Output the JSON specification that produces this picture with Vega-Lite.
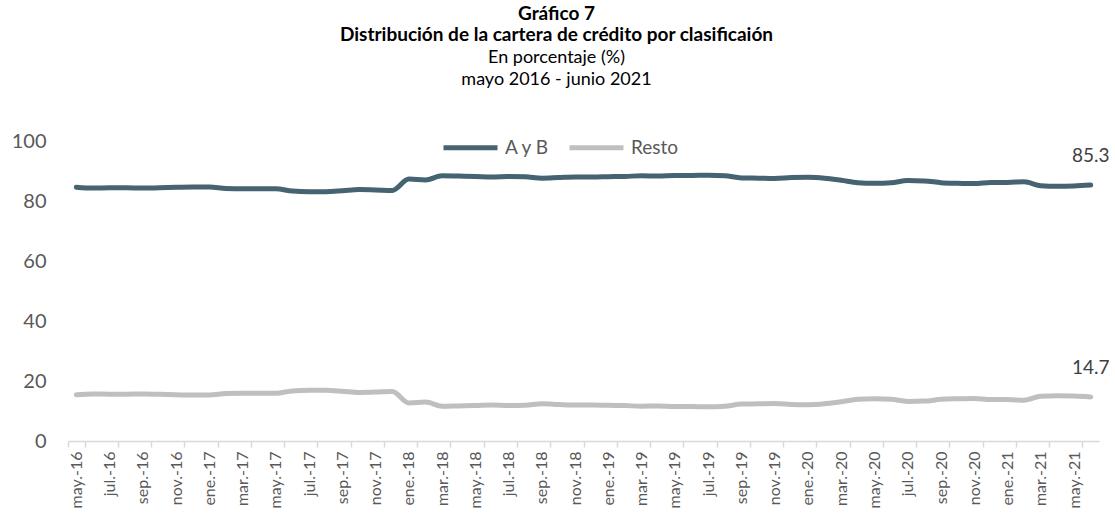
{
  "$schema": "https://vega.github.io/schema/vega-lite/v6.json",
  "width": 1031,
  "height": 300,
  "autosize": {"type": "none"},
  "padding": {"left": 68, "top": 141, "right": 16, "bottom": 77},
  "background": "white",
  "config": {"view": {"stroke": null}, "font": "Lato"},
  "title": {
    "text": ["Gráfico 7", "Distribución de la cartera de crédito por clasificaión"],
    "subtitle": ["En porcentaje (%)", "mayo 2016 - junio 2021"],
    "anchor": "middle",
    "frame": "group",
    "dx": -27,
    "offset": 29,
    "font": "Lato",
    "fontSize": 19,
    "fontWeight": "bold",
    "color": "#000000",
    "lineHeight": 21,
    "subtitleFont": "Lato",
    "subtitleFontSize": 18,
    "subtitleFontWeight": "normal",
    "subtitleColor": "#000000",
    "subtitleLineHeight": 22,
    "subtitlePadding": 4
  },
  "data": {"values": [
    {"mes": "may.-16", "serie": "A y B", "valor": 84.6}, {"mes": "jun.-16", "serie": "A y B", "valor": 84.3},
    {"mes": "jul.-16", "serie": "A y B", "valor": 84.4}, {"mes": "ago.-16", "serie": "A y B", "valor": 84.4},
    {"mes": "sep.-16", "serie": "A y B", "valor": 84.3}, {"mes": "oct.-16", "serie": "A y B", "valor": 84.4},
    {"mes": "nov.-16", "serie": "A y B", "valor": 84.6}, {"mes": "dic.-16", "serie": "A y B", "valor": 84.7},
    {"mes": "ene.-17", "serie": "A y B", "valor": 84.7}, {"mes": "feb.-17", "serie": "A y B", "valor": 84.2},
    {"mes": "mar.-17", "serie": "A y B", "valor": 84.1}, {"mes": "abr.-17", "serie": "A y B", "valor": 84.1},
    {"mes": "may.-17", "serie": "A y B", "valor": 84.1}, {"mes": "jun.-17", "serie": "A y B", "valor": 83.3},
    {"mes": "jul.-17", "serie": "A y B", "valor": 83.1}, {"mes": "ago.-17", "serie": "A y B", "valor": 83.1},
    {"mes": "sep.-17", "serie": "A y B", "valor": 83.4}, {"mes": "oct.-17", "serie": "A y B", "valor": 83.8},
    {"mes": "nov.-17", "serie": "A y B", "valor": 83.7}, {"mes": "dic.-17", "serie": "A y B", "valor": 83.5},
    {"mes": "ene.-18", "serie": "A y B", "valor": 87.3}, {"mes": "feb.-18", "serie": "A y B", "valor": 87.0},
    {"mes": "mar.-18", "serie": "A y B", "valor": 88.4}, {"mes": "abr.-18", "serie": "A y B", "valor": 88.3},
    {"mes": "may.-18", "serie": "A y B", "valor": 88.2}, {"mes": "jun.-18", "serie": "A y B", "valor": 88.0},
    {"mes": "jul.-18", "serie": "A y B", "valor": 88.2}, {"mes": "ago.-18", "serie": "A y B", "valor": 88.1},
    {"mes": "sep.-18", "serie": "A y B", "valor": 87.6}, {"mes": "oct.-18", "serie": "A y B", "valor": 87.8},
    {"mes": "nov.-18", "serie": "A y B", "valor": 88.0}, {"mes": "dic.-18", "serie": "A y B", "valor": 88.0},
    {"mes": "ene.-19", "serie": "A y B", "valor": 88.1}, {"mes": "feb.-19", "serie": "A y B", "valor": 88.2},
    {"mes": "mar.-19", "serie": "A y B", "valor": 88.4}, {"mes": "abr.-19", "serie": "A y B", "valor": 88.3},
    {"mes": "may.-19", "serie": "A y B", "valor": 88.5}, {"mes": "jun.-19", "serie": "A y B", "valor": 88.5},
    {"mes": "jul.-19", "serie": "A y B", "valor": 88.6}, {"mes": "ago.-19", "serie": "A y B", "valor": 88.4},
    {"mes": "sep.-19", "serie": "A y B", "valor": 87.7}, {"mes": "oct.-19", "serie": "A y B", "valor": 87.6},
    {"mes": "nov.-19", "serie": "A y B", "valor": 87.5}, {"mes": "dic.-19", "serie": "A y B", "valor": 87.8},
    {"mes": "ene.-20", "serie": "A y B", "valor": 87.9}, {"mes": "feb.-20", "serie": "A y B", "valor": 87.6},
    {"mes": "mar.-20", "serie": "A y B", "valor": 86.9}, {"mes": "abr.-20", "serie": "A y B", "valor": 86.1},
    {"mes": "may.-20", "serie": "A y B", "valor": 85.9}, {"mes": "jun.-20", "serie": "A y B", "valor": 86.1},
    {"mes": "jul.-20", "serie": "A y B", "valor": 86.8}, {"mes": "ago.-20", "serie": "A y B", "valor": 86.7},
    {"mes": "sep.-20", "serie": "A y B", "valor": 86.1}, {"mes": "oct.-20", "serie": "A y B", "valor": 85.9},
    {"mes": "nov.-20", "serie": "A y B", "valor": 85.8}, {"mes": "dic.-20", "serie": "A y B", "valor": 86.2},
    {"mes": "ene.-21", "serie": "A y B", "valor": 86.2}, {"mes": "feb.-21", "serie": "A y B", "valor": 86.4},
    {"mes": "mar.-21", "serie": "A y B", "valor": 85.1}, {"mes": "abr.-21", "serie": "A y B", "valor": 84.9},
    {"mes": "may.-21", "serie": "A y B", "valor": 85.0}, {"mes": "jun.-21", "serie": "A y B", "valor": 85.3},
    {"mes": "may.-16", "serie": "Resto", "valor": 15.4}, {"mes": "jun.-16", "serie": "Resto", "valor": 15.7},
    {"mes": "jul.-16", "serie": "Resto", "valor": 15.6}, {"mes": "ago.-16", "serie": "Resto", "valor": 15.6},
    {"mes": "sep.-16", "serie": "Resto", "valor": 15.7}, {"mes": "oct.-16", "serie": "Resto", "valor": 15.6},
    {"mes": "nov.-16", "serie": "Resto", "valor": 15.4}, {"mes": "dic.-16", "serie": "Resto", "valor": 15.3},
    {"mes": "ene.-17", "serie": "Resto", "valor": 15.3}, {"mes": "feb.-17", "serie": "Resto", "valor": 15.8},
    {"mes": "mar.-17", "serie": "Resto", "valor": 15.9}, {"mes": "abr.-17", "serie": "Resto", "valor": 15.9},
    {"mes": "may.-17", "serie": "Resto", "valor": 15.9}, {"mes": "jun.-17", "serie": "Resto", "valor": 16.7},
    {"mes": "jul.-17", "serie": "Resto", "valor": 16.9}, {"mes": "ago.-17", "serie": "Resto", "valor": 16.9},
    {"mes": "sep.-17", "serie": "Resto", "valor": 16.6}, {"mes": "oct.-17", "serie": "Resto", "valor": 16.2},
    {"mes": "nov.-17", "serie": "Resto", "valor": 16.3}, {"mes": "dic.-17", "serie": "Resto", "valor": 16.5},
    {"mes": "ene.-18", "serie": "Resto", "valor": 12.7}, {"mes": "feb.-18", "serie": "Resto", "valor": 13.0},
    {"mes": "mar.-18", "serie": "Resto", "valor": 11.6}, {"mes": "abr.-18", "serie": "Resto", "valor": 11.7},
    {"mes": "may.-18", "serie": "Resto", "valor": 11.8}, {"mes": "jun.-18", "serie": "Resto", "valor": 12.0},
    {"mes": "jul.-18", "serie": "Resto", "valor": 11.8}, {"mes": "ago.-18", "serie": "Resto", "valor": 11.9},
    {"mes": "sep.-18", "serie": "Resto", "valor": 12.4}, {"mes": "oct.-18", "serie": "Resto", "valor": 12.2},
    {"mes": "nov.-18", "serie": "Resto", "valor": 12.0}, {"mes": "dic.-18", "serie": "Resto", "valor": 12.0},
    {"mes": "ene.-19", "serie": "Resto", "valor": 11.9}, {"mes": "feb.-19", "serie": "Resto", "valor": 11.8},
    {"mes": "mar.-19", "serie": "Resto", "valor": 11.6}, {"mes": "abr.-19", "serie": "Resto", "valor": 11.7},
    {"mes": "may.-19", "serie": "Resto", "valor": 11.5}, {"mes": "jun.-19", "serie": "Resto", "valor": 11.5},
    {"mes": "jul.-19", "serie": "Resto", "valor": 11.4}, {"mes": "ago.-19", "serie": "Resto", "valor": 11.6},
    {"mes": "sep.-19", "serie": "Resto", "valor": 12.3}, {"mes": "oct.-19", "serie": "Resto", "valor": 12.4},
    {"mes": "nov.-19", "serie": "Resto", "valor": 12.5}, {"mes": "dic.-19", "serie": "Resto", "valor": 12.2},
    {"mes": "ene.-20", "serie": "Resto", "valor": 12.1}, {"mes": "feb.-20", "serie": "Resto", "valor": 12.4},
    {"mes": "mar.-20", "serie": "Resto", "valor": 13.1}, {"mes": "abr.-20", "serie": "Resto", "valor": 13.9},
    {"mes": "may.-20", "serie": "Resto", "valor": 14.1}, {"mes": "jun.-20", "serie": "Resto", "valor": 13.9},
    {"mes": "jul.-20", "serie": "Resto", "valor": 13.2}, {"mes": "ago.-20", "serie": "Resto", "valor": 13.3},
    {"mes": "sep.-20", "serie": "Resto", "valor": 13.9}, {"mes": "oct.-20", "serie": "Resto", "valor": 14.1},
    {"mes": "nov.-20", "serie": "Resto", "valor": 14.2}, {"mes": "dic.-20", "serie": "Resto", "valor": 13.8},
    {"mes": "ene.-21", "serie": "Resto", "valor": 13.8}, {"mes": "feb.-21", "serie": "Resto", "valor": 13.6},
    {"mes": "mar.-21", "serie": "Resto", "valor": 14.9}, {"mes": "abr.-21", "serie": "Resto", "valor": 15.1},
    {"mes": "may.-21", "serie": "Resto", "valor": 15.0}, {"mes": "jun.-21", "serie": "Resto", "valor": 14.7}
  ]},
  "encoding": {
    "x": {
      "field": "mes", "type": "ordinal", "sort": null,
      "scale": {"type": "band", "paddingInner": 0, "paddingOuter": 0},
      "axis": {
        "title": null,
        "values": ["may.-16","jul.-16","sep.-16","nov.-16","ene.-17","mar.-17","may.-17","jul.-17","sep.-17","nov.-17","ene.-18","mar.-18","may.-18","jul.-18","sep.-18","nov.-18","ene.-19","mar.-19","may.-19","jul.-19","sep.-19","nov.-19","ene.-20","mar.-20","may.-20","jul.-20","sep.-20","nov.-20","ene.-21","mar.-21","may.-21"],
        "tickBand": "extent",
        "labelAngle": -90,
        "labelFont": "Lato",
        "labelFontSize": 16,
        "labelColor": "#595959",
        "labelPadding": 4,
        "domainColor": "#d9d9d9",
        "domainWidth": 1.5,
        "tickColor": "#d9d9d9",
        "tickWidth": 1.5,
        "tickSize": 6,
        "grid": false
      }
    },
    "y": {
      "field": "valor", "type": "quantitative",
      "scale": {"domain": [0, 100], "nice": false},
      "axis": {
        "title": null,
        "values": [0, 20, 40, 60, 80, 100],
        "domain": false,
        "ticks": false,
        "grid": false,
        "labelFont": "Lato",
        "labelFontSize": 20,
        "labelColor": "#595959",
        "labelPadding": 22
      }
    },
    "color": {
      "field": "serie", "type": "nominal",
      "scale": {"domain": ["A y B", "Resto"], "range": ["#456370", "#bfbfbf"]},
      "legend": {
        "title": null,
        "orient": "none",
        "direction": "horizontal",
        "legendX": 373,
        "legendY": -23,
        "symbolType": "stroke",
        "symbolSize": 2916,
        "symbolStrokeWidth": 5,
        "labelFont": "Lato",
        "labelFontSize": 19,
        "labelColor": "#595959",
        "labelOffset": 5,
        "columnPadding": 9
      }
    }
  },
  "layer": [
    {
      "mark": {"type": "line", "strokeWidth": 5, "interpolate": "monotone", "strokeCap": "round", "strokeJoin": "round"}
    },
    {
      "transform": [{"filter": "datum.mes == 'jun.-21'"}],
      "mark": {"type": "text", "font": "Lato", "fontSize": 19, "color": "#404040", "dy": -29, "baseline": "middle", "align": "center"},
      "encoding": {
        "text": {"field": "valor", "type": "quantitative", "format": ".1f"},
        "color": {"value": "#404040"}
      }
    }
  ]
}
